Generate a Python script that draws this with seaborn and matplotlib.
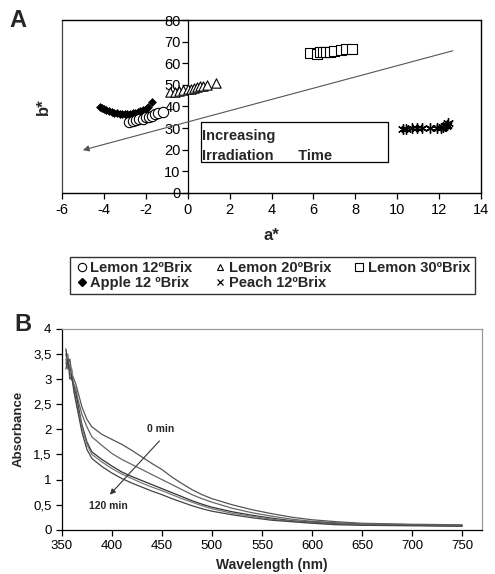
import numpy as np
import pandas as pd
import seaborn as sns
import matplotlib.pyplot as plt
from matplotlib.lines import Line2D
from matplotlib.patches import Rectangle

sns.set_theme(style="white")
plt.rcParams["font.family"] = ["Liberation Sans", "DejaVu Sans"]
plt.rcParams["axes.unicode_minus"] = False

# ---- panel A : CIELab a*, b* ----
lemon12_a = [-2.78, -2.6, -2.45, -2.3, -2.15, -2.0, -1.85, -1.7, -1.55, -1.4, -1.19]
lemon12_b = [32.8, 33.2, 33.6, 34.0, 34.4, 34.9, 35.3, 35.8, 36.3, 36.8, 37.6]

lemon20_a = [-0.83, -0.6, -0.4, -0.2, 0.0, 0.15, 0.3, 0.45, 0.6, 0.75, 0.9, 1.35]
lemon20_b = [46.5, 46.8, 47.3, 47.8, 48.0, 48.3, 48.6, 48.9, 49.3, 49.6, 50.0, 51.0]

lemon30_a = [5.85, 6.15, 6.3, 6.45, 6.6, 6.8, 7.0, 7.3, 7.55, 7.85]
lemon30_b = [64.7, 64.5, 65.0, 65.3, 65.2, 65.4, 65.6, 66.3, 66.6, 66.7]

apple_a = [-4.2, -4.1, -4.0, -3.88, -3.75, -3.62, -3.5, -3.38, -3.25, -3.12, -3.0,
           -2.88, -2.75, -2.62, -2.5, -2.38, -2.25, -2.12, -2.0, -1.9, -1.72]
apple_b = [39.6, 39.2, 38.7, 38.3, 37.9, 37.5, 37.2, 36.9, 36.7, 36.6, 36.5,
           36.5, 36.6, 36.8, 37.0, 37.4, 37.8, 38.3, 38.9, 39.6, 41.9]

peach_a = [10.25, 10.4, 10.7, 10.95, 11.2, 11.55, 11.9, 12.1, 12.2, 12.3, 12.35, 12.4]
peach_b = [29.8, 29.8, 29.9, 29.9, 29.9, 30.0, 30.0, 30.2, 30.5, 30.9, 31.5, 32.3]

trend_a = [12.65, -5.0]
trend_b = [65.8, 19.8]

box_a = [0.63, 9.57]
box_b = [14.4, 32.6]

# ---- panel B : absorbance spectra ----
wl = [354, 356, 358, 360, 362, 364, 366, 368, 370, 375, 380, 390, 400, 410, 420, 430,
      440, 450, 460, 470, 480, 490, 500, 520, 540, 560, 580, 600, 625, 650, 700, 750]
abs_0 = [3.5, 3.3, 3.4, 3.1, 3.0, 2.9, 2.75, 2.6, 2.45, 2.2, 2.05, 1.9, 1.8, 1.7, 1.58, 1.45,
         1.32, 1.2, 1.05, 0.92, 0.8, 0.7, 0.62, 0.5, 0.4, 0.32, 0.25, 0.2, 0.16, 0.13, 0.11, 0.1]
abs_1 = [3.4, 3.2, 3.3, 3.0, 2.9, 2.8, 2.6, 2.45, 2.3, 2.05, 1.85, 1.68, 1.52, 1.4, 1.3, 1.2,
         1.1, 1.0, 0.9, 0.8, 0.7, 0.62, 0.55, 0.43, 0.34, 0.27, 0.21, 0.17, 0.14, 0.12, 0.1, 0.09]
abs_2 = [3.6, 3.3, 3.2, 3.0, 2.85, 2.7, 2.5, 2.3, 2.1, 1.75, 1.55, 1.4, 1.27, 1.15, 1.06, 0.98,
         0.9, 0.82, 0.74, 0.66, 0.58, 0.51, 0.45, 0.36, 0.29, 0.23, 0.18, 0.15, 0.12, 0.1, 0.09, 0.08]
abs_3 = [3.3, 3.5, 3.1, 3.2, 2.8, 2.6, 2.4, 2.25, 2.05, 1.7, 1.5, 1.35, 1.22, 1.11, 1.02, 0.93,
         0.85, 0.78, 0.7, 0.62, 0.55, 0.48, 0.42, 0.33, 0.27, 0.21, 0.17, 0.14, 0.11, 0.1, 0.09, 0.08]
abs_4 = [3.2, 3.4, 3.0, 3.05, 2.75, 2.55, 2.35, 2.15, 1.95, 1.6, 1.42, 1.26, 1.13, 1.02, 0.93, 0.85,
         0.77, 0.7, 0.62, 0.55, 0.48, 0.42, 0.37, 0.3, 0.24, 0.19, 0.16, 0.13, 0.1, 0.09, 0.08, 0.07]
spectra = [abs_0, abs_1, abs_2, abs_3, abs_4]
spec_colors = ["#555555", "#666666", "#333333", "#777777", "#444444"]

arrow_wl = [447.5, 398]
arrow_abs = [1.77, 0.7]

fig = plt.figure(figsize=(4.95, 5.74), dpi=100)
axA = fig.add_axes([0.125, 0.664, 0.847, 0.301])
axB = fig.add_axes([0.125, 0.077, 0.849, 0.350])

# panel A
sns.scatterplot(x=apple_a, y=apple_b, marker="D", s=16, color="black", edgecolor="black",
                linewidth=0.5, ax=axA, zorder=3)
sns.scatterplot(x=lemon12_a, y=lemon12_b, marker="o", s=55, facecolor="white", edgecolor="black",
                linewidth=0.8, ax=axA, zorder=3)
sns.scatterplot(x=lemon20_a, y=lemon20_b, marker="^", s=45, facecolor="white", edgecolor="black",
                linewidth=0.8, ax=axA, zorder=3)
sns.scatterplot(x=lemon30_a, y=lemon30_b, marker="s", s=55, facecolor="white", edgecolor="black",
                linewidth=0.8, ax=axA, zorder=3)
sns.scatterplot(x=peach_a, y=peach_b, marker=(6, 2, 0), s=50, color="black", edgecolor="black",
                linewidth=1.0, ax=axA, zorder=3)

axA.annotate("", xy=(trend_a[1], trend_b[1]), xytext=(trend_a[0], trend_b[0]),
             arrowprops=dict(arrowstyle="-|>", color="#555555", lw=0.8,
                             mutation_scale=9, shrinkA=0, shrinkB=0))

axA.add_patch(Rectangle((box_a[0], box_b[0]), box_a[1] - box_a[0], box_b[1] - box_b[0],
                        fill=False, edgecolor="black", lw=0.9, zorder=4))
axA.text(0.7, 26.5, "Increasing", fontsize=10.5, fontweight="bold", va="center", zorder=5)
axA.text(0.7, 17.3, "Irradiation      Time", fontsize=10.5, fontweight="bold", va="center", zorder=5)

axA.set_xlim(-6, 14)
axA.set_ylim(0, 80)
axA.set_xticks(np.arange(-6, 15, 2))
axA.set_yticks(np.arange(0, 81, 10))
axA.spines["left"].set_position(("data", 0))
for sp in axA.spines.values():
    sp.set_color("black")
    sp.set_linewidth(0.9)
axA.add_patch(Rectangle((0, 0), 1, 1, transform=axA.transAxes, fill=False,
                        edgecolor="#444444", lw=0.9, clip_on=False))
axA.tick_params(axis="both", direction="out", length=4, width=0.9, labelsize=10.5,
                colors="black", bottom=True, left=True)
axA.tick_params(axis="y", pad=1)
axA.set_xlabel("a*", fontsize=12, fontweight="bold", labelpad=8)
axA.set_ylabel("b*", fontsize=12, fontweight="bold")
axA.yaxis.set_label_coords(-0.025, 0.5)

handles = [
    Line2D([], [], ls="none", marker="o", ms=6, mfc="white", mec="black", mew=0.8),
    Line2D([], [], ls="none", marker="D", ms=4, mfc="black", mec="black"),
    Line2D([], [], ls="none", marker="^", ms=5, mfc="white", mec="black", mew=0.8),
    Line2D([], [], ls="none", marker="x", ms=5, mec="black", mew=0.9),
    Line2D([], [], ls="none", marker="s", ms=6, mfc="white", mec="black", mew=0.8),
]
labels = ["Lemon 12ºBrix", "Apple 12 ºBrix", "Lemon 20ºBrix", "Peach 12ºBrix", "Lemon 30ºBrix"]
leg = fig.legend(handles, labels, ncol=3, loc="center", bbox_to_anchor=(0.55, 0.52),
                 prop={"weight": "bold", "size": 10.5}, frameon=True, fancybox=False,
                 handletextpad=0.1, columnspacing=1.4, labelspacing=0.05,
                 handlelength=1.0, borderpad=0.3, borderaxespad=0)
leg.get_frame().set_edgecolor("black")
leg.get_frame().set_linewidth(1.0)

# panel B
for vals, col in zip(spectra, spec_colors):
    sns.lineplot(x=wl, y=vals, color=col, lw=0.9, ax=axB)

axB.annotate("", xy=(arrow_wl[1], arrow_abs[1]), xytext=(arrow_wl[0], arrow_abs[0]),
             arrowprops=dict(arrowstyle="-|>", color="#333333", lw=0.8,
                             mutation_scale=8, shrinkA=0, shrinkB=0))
axB.text(449, 2.0, "0 min", fontsize=7.5, fontweight="bold", ha="center", va="center")
axB.text(396, 0.47, "120 min", fontsize=7.5, fontweight="bold", ha="center", va="center")

axB.set_xlim(350, 770)
axB.set_ylim(0, 4)
axB.set_xticks(np.arange(350, 751, 50))
axB.set_yticks(np.arange(0, 4.01, 0.5))
axB.set_yticklabels(["0", "0,5", "1", "1,5", "2", "2,5", "3", "3,5", "4"])
for side in ["top", "right"]:
    axB.spines[side].set_color("#9a9a9a")
    axB.spines[side].set_linewidth(0.9)
for side in ["left", "bottom"]:
    axB.spines[side].set_color("black")
    axB.spines[side].set_linewidth(0.9)
axB.tick_params(axis="both", direction="out", length=4, width=0.9, labelsize=9.5,
                colors="black", bottom=True, left=True)
axB.set_xlabel("Wavelength (nm)", fontsize=10, fontweight="bold", labelpad=4)
axB.set_ylabel("Absorbance", fontsize=9.5, fontweight="bold", labelpad=6)

fig.text(0.02, 0.965, "A", fontsize=17, fontweight="bold", va="center")
fig.text(0.03, 0.435, "B", fontsize=17, fontweight="bold", va="center")

fig.savefig("out.png", dpi=100, facecolor="white")
